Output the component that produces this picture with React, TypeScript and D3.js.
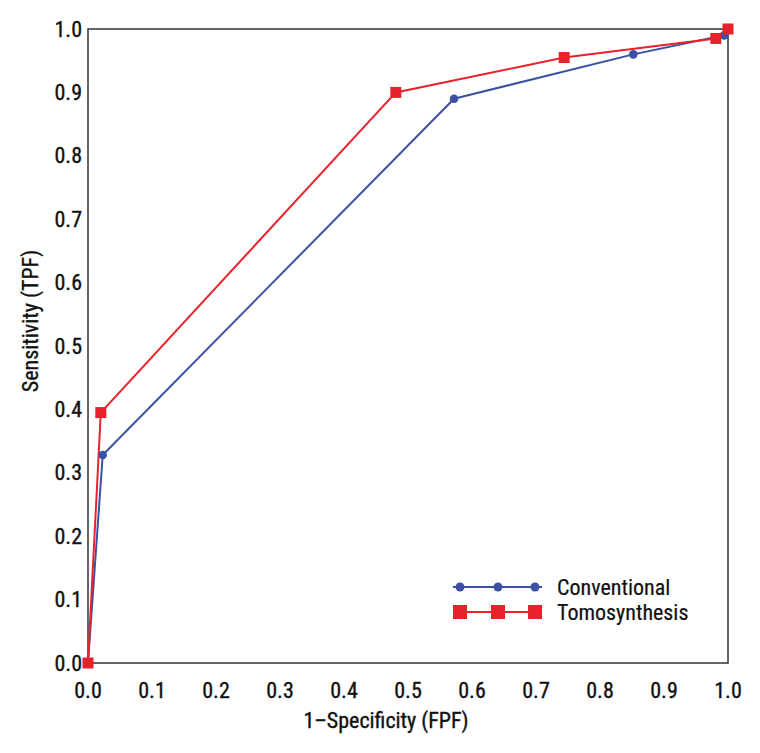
import React from "react";
import * as d3 from "d3";

const ticks = [0, 0.1, 0.2, 0.3, 0.4, 0.5, 0.6, 0.7, 0.8, 0.9, 1.0];
const convFPF = [0, 0.023, 0.572, 0.852, 0.994];
const convTPF = [0, 0.328, 0.89, 0.96, 0.99];
const tomoFPF = [0, 0.02, 0.481, 0.744, 0.981, 1.0];
const tomoTPF = [0, 0.395, 0.9, 0.955, 0.985, 1.0];
const seriesNames = ["Conventional", "Tomosynthesis"];

const BLUE = "#3b52a3";
const RED = "#e8222b";
const FONT = "'Liberation Sans Narrow', 'Arial Narrow', 'Roboto Condensed', sans-serif";
const TXT = { fontFamily: FONT, fill: "#111", stroke: "#111", strokeWidth: 0.35 } as const;

export default function App() {
  const W = 760, H = 753;
  const x = d3.scaleLinear().domain([0, 1]).range([88, 728]);
  const y = d3.scaleLinear().domain([0, 1]).range([663, 29]);
  const line = d3.line<[number, number]>().x(d => x(d[0])).y(d => y(d[1]));
  const conv: [number, number][] = convFPF.map((v, i) => [v, convTPF[i]]);
  const tomo: [number, number][] = tomoFPF.map((v, i) => [v, tomoTPF[i]]);
  const sq = 11;
  const lsq = 14;
  const legX = [460, 498, 535];
  return (
    <svg width={W} height={H} style={{ position: "absolute", left: 0, top: 0, background: "#fff" }}>
      <rect x={x(0)} y={y(1)} width={x(1) - x(0)} height={y(0) - y(1)} fill="none" stroke="#333" strokeWidth={1.5} />
      {ticks.map(t => (
        <text key={"x" + t} x={x(t)} y={698} textAnchor="middle" fontSize={22} {...TXT}>
          {t.toFixed(1)}
        </text>
      ))}
      {ticks.map(t => (
        <text key={"y" + t} x={82} y={y(t) + 7.5} textAnchor="end" fontSize={22} {...TXT}>
          {t.toFixed(1)}
        </text>
      ))}
      <text x={386} y={728} textAnchor="middle" fontSize={22} {...TXT}>1–Specificity (FPF)</text>
      <text transform={`translate(38,321) rotate(-90)`} textAnchor="middle" fontSize={22} {...TXT}>Sensitivity (TPF)</text>
      <path d={line(conv) || ""} fill="none" stroke={BLUE} strokeWidth={2} />
      <path d={line(tomo) || ""} fill="none" stroke={RED} strokeWidth={2} />
      {conv.map((d, i) => (
        <circle key={"c" + i} cx={x(d[0])} cy={y(d[1])} r={4.3} fill={BLUE} />
      ))}
      {tomo.map((d, i) => (
        <rect key={"t" + i} x={x(d[0]) - sq / 2} y={y(d[1]) - sq / 2} width={sq} height={sq} fill={RED} />
      ))}
      <line x1={453} x2={542} y1={587} y2={587} stroke={BLUE} strokeWidth={2} />
      {legX.map((lx, i) => <circle key={"lc" + i} cx={lx} cy={587} r={4.5} fill={BLUE} />)}
      <line x1={453} x2={542} y1={612} y2={612} stroke={RED} strokeWidth={2} />
      {legX.map((lx, i) => <rect key={"lr" + i} x={lx - lsq / 2} y={612 - lsq / 2} width={lsq} height={lsq} fill={RED} />)}
      <text x={557} y={595} fontSize={22} {...TXT} strokeWidth={0.2}>{seriesNames[0]}</text>
      <text x={557} y={620} fontSize={22} {...TXT} strokeWidth={0.2}>{seriesNames[1]}</text>
    </svg>
  );
}
